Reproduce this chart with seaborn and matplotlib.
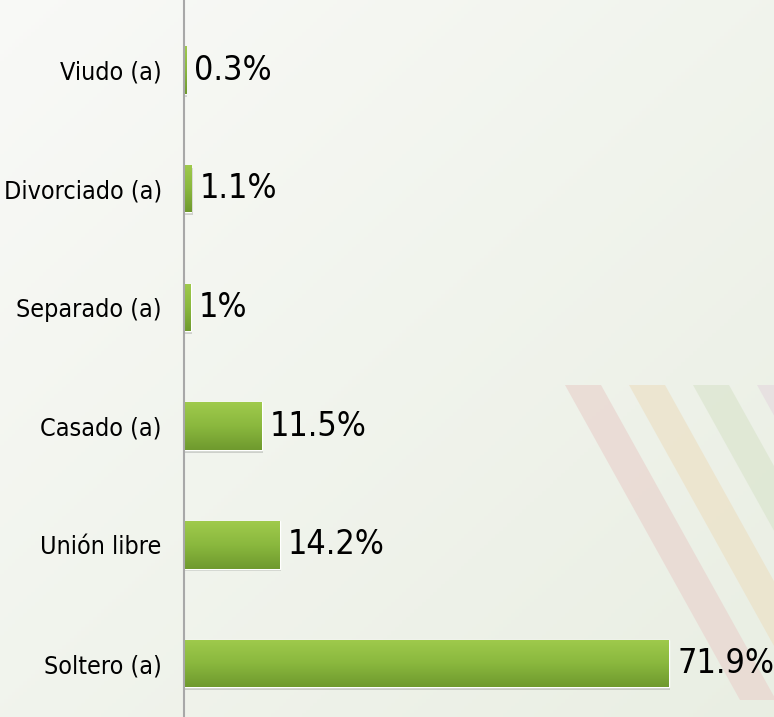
import numpy as np
import pandas as pd
import matplotlib
matplotlib.use("Agg")
import matplotlib.pyplot as plt
import seaborn as sns
from matplotlib import font_manager as fm
from matplotlib.patches import Polygon
import matplotlib.patheffects as pe

# data
categories = ["Viudo (a)", "Divorciado (a)", "Separado (a)", "Casado (a)", "Unión libre", "Soltero (a)"]
values = [0.3, 1.1, 1.0, 11.5, 14.2, 71.9]
labels = ["0.3%", "1.1%", "1%", "11.5%", "14.2%", "71.9%"]

df = pd.DataFrame({"estado": categories, "pct": values})

sns.set_style("white")

# look for a narrow/condensed regular face (reference uses Arial Narrow)
narrow = None
for f in fm.fontManager.ttflist:
    nm = (f.name + " " + str(f.fname)).lower()
    is_narrow = ("narrow" in nm or "condensed" in nm or f.stretch in ("condensed", "semi-condensed", 625, 750))
    bad = any(k in str(f.fname).lower() for k in ["bold", "italic", "light", "thin", "black", "medium", "semi", "extra", "oblique"])
    if is_narrow and not bad and f.weight in ("normal", "regular", 400):
        narrow = f.fname
        break

if narrow:
    tick_fp = fm.FontProperties(fname=narrow, size=18)
    val_fp = fm.FontProperties(fname=narrow, size=24.5)
else:
    tick_fp = fm.FontProperties(family="Liberation Sans", size=17)
    val_fp = fm.FontProperties(family="Liberation Sans", size=23)

fig = plt.figure(figsize=(7.74, 7.17), dpi=100)

# background: soft gradient + faint diagonal stripes
bg = fig.add_axes([0, 0, 1, 1], zorder=-2)
yy, xx = np.mgrid[0:1:200j, 0:1:200j]
t = (xx * 0.5 + yy * 0.5)
c0 = np.array([0.975, 0.978, 0.968])
c1 = np.array([0.915, 0.935, 0.89])
grad = c0[None, None, :] * (1 - t[..., None]) + c1[None, None, :] * t[..., None]
bg.imshow(grad, extent=[0, 1, 0, 1], aspect="auto", origin="upper")
bg.set_xlim(0, 1)
bg.set_ylim(0, 1)
bg.axis("off")

stripe_cols = ["#e9d6d0", "#ece2c8", "#dce6d0", "#e6dce0"]
for i, col in enumerate(stripe_cols):
    x0 = (565 + i * 64) / 774
    w = 36 / 774
    top = 1 - 385 / 717
    bot = 1 - 700 / 717
    dx = 175 / 774
    poly = Polygon([[x0, top], [x0 + w, top], [x0 + w + dx, bot], [x0 + dx, bot]],
                   closed=True, facecolor=col, edgecolor="none", alpha=0.75,
                   transform=bg.transAxes)
    bg.add_patch(poly)

ax = fig.add_axes([184 / 774, 0, 1 - 184 / 774, 1])
ax.patch.set_alpha(0)

sns.barplot(data=df, x="pct", y="estado", orient="h", color="#8cb840",
            width=0.4, ax=ax, saturation=1)

# vertical gradient on each bar
gimg = np.linspace(0, 1, 64)[:, None]
cmap = matplotlib.colors.LinearSegmentedColormap.from_list("g", ["#9fca4c", "#8ab83e", "#6f9a2e"])
for bar in ax.patches:
    bar.set_path_effects([pe.SimplePatchShadow(offset=(1, -2), alpha=0.2, shadow_rgbFace="#404040"), pe.Normal()])
    x, y = bar.get_x(), bar.get_y()
    w, h = bar.get_width(), bar.get_height()
    im = ax.imshow(gimg, extent=[x, x + w, y + h, y], aspect="auto", cmap=cmap,
                   origin="upper", zorder=bar.get_zorder() + 0.1)
    im.set_clip_path(bar)

for bar, lab in zip(ax.patches, labels):
    ax.annotate(lab, (bar.get_width(), bar.get_y() + bar.get_height() / 2),
                xytext=(6, 0), textcoords="offset points", va="center", ha="left",
                fontproperties=val_fp, color="black")

ax.set_xlim(0, 87.5)
ax.set_ylim(5.45, -0.59)
ax.set_xlabel("")
ax.set_ylabel("")
ax.set_xticks([])
ax.tick_params(axis="y", length=0, pad=16)
for tl in ax.get_yticklabels():
    tl.set_fontproperties(tick_fp)
    tl.set_color("black")
for s in ["top", "right", "bottom"]:
    ax.spines[s].set_visible(False)
ax.spines["left"].set_color("#a8a8a8")
ax.spines["left"].set_linewidth(1.5)

fig.savefig("out.png", dpi=100)
